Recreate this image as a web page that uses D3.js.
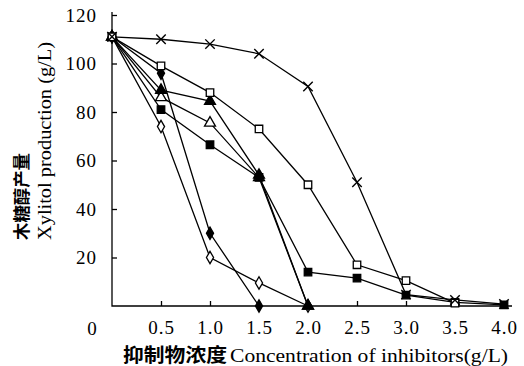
<!DOCTYPE html>
<html>
<head>
<meta charset="utf-8">
<script src="https://cdn.jsdelivr.net/npm/d3@7"></script>
<style>
  body { margin: 0; background: #fff; }
  svg { display: block; }
  .tick text { font-family: "Liberation Serif", serif; font-size: 19px; fill: #000; letter-spacing: 1px; }
</style>
</head>
<body>
<svg id="chart" width="524" height="366"></svg>
<script>
// inhibitor concentration (g/L)
const conc = [0, 0.5, 1.0, 1.5, 2.0, 2.5, 3.0, 3.5, 4.0];

// xylitol production (g/L), one array per inhibitor
const seriesCross = [111, 110, 108, 104, 90.5, 51, 4.7, 2.5, 0.8];
const seriesOpenSquare = [111, 99, 88, 73, 50, 17, 10.5, 1.2];
const seriesFilledSquare = [111, 81, 66.5, 53, 14, 11.5, 4.5, 1.5, 0.5];
const seriesFilledTriangle = [111, 89, 84.5, 54, 0];
const seriesOpenTriangle = [111, 86, 75.5, 53, 0];
const seriesFilledDiamond = [111, 96, 30, 0];
const seriesOpenDiamond = [111, 74, 20, 9.5, 0];

const xTicks = [0.5, 1.0, 1.5, 2.0, 2.5, 3.0, 3.5, 4.0];
const yTicks = [20, 40, 60, 80, 100, 120];

const series = [
  { values: seriesOpenDiamond, symbol: d3.symbolDiamond, size: 44, filled: false },
  { values: seriesFilledDiamond, symbol: d3.symbolDiamond, size: 44, filled: true },
  { values: seriesOpenTriangle, symbol: d3.symbolTriangle, size: 52, filled: false },
  { values: seriesFilledTriangle, symbol: d3.symbolTriangle, size: 52, filled: true },
  { values: seriesFilledSquare, symbol: d3.symbolSquare, size: 56, filled: true },
  { values: seriesOpenSquare, symbol: d3.symbolSquare, size: 56, filled: false },
  { values: seriesCross, symbol: d3.symbolTimes, size: 60, filled: false, cross: true }
];

const svg = d3.select('#chart');

const x = d3.scaleLinear().domain([0, 4]).range([112, 504]);
const y = d3.scaleLinear().domain([0, 120]).range([306, 15]);

// axes, ticks pointing inward
svg.append('g')
  .attr('transform', `translate(0,${y(0)})`)
  .call(d3.axisBottom(x).tickValues(xTicks).tickFormat(d3.format('.1f'))
    .tickSizeInner(-5).tickSizeOuter(0).tickPadding(15))
  .call(g => g.select('.domain').remove());

svg.append('g')
  .attr('transform', `translate(${x(0)},0)`)
  .call(d3.axisLeft(y).tickValues(yTicks)
    .tickSizeInner(-5).tickSizeOuter(0).tickPadding(15))
  .call(g => g.select('.domain').remove());

svg.selectAll('.tick line').attr('stroke', '#000').attr('stroke-width', 1.3);

svg.append('path')
  .attr('d', `M${x(0)},${y(120) - 3}V${y(0)}H${x(4) + 8}`)
  .attr('fill', 'none')
  .attr('stroke', '#000')
  .attr('stroke-width', 1.3);

// origin label
svg.append('text')
  .attr('x', 92).attr('y', 335)
  .attr('text-anchor', 'middle')
  .style('font-family', '"Liberation Serif", serif')
  .style('font-size', '19px')
  .text('0');

const line = d3.line()
  .x((d, i) => x(conc[i]))
  .y(d => y(d));

const plot = svg.append('g');

plot.selectAll('path.series')
  .data(series)
  .enter()
  .append('path')
  .attr('class', 'series')
  .attr('d', s => line(s.values))
  .attr('fill', 'none')
  .attr('stroke', '#000')
  .attr('stroke-width', 1.3);

series.forEach(s => {
  plot.append('g')
    .selectAll('path')
    .data(s.values)
    .enter()
    .append('path')
    .attr('transform', (d, i) => `translate(${x(conc[i])},${y(d)})`)
    .attr('d', d3.symbol().type(s.symbol).size(s.size))
    .attr('fill', s.cross ? 'none' : (s.filled ? '#000' : '#fff'))
    .attr('stroke', '#000')
    .attr('stroke-width', s.cross ? 1.4 : 1.3);
});

// axis titles
svg.append('text')
  .attr('x', 123).attr('y', 362)
  .attr('textLength', 104)
  .attr('lengthAdjust', 'spacingAndGlyphs')
  .style('font-family', '"Noto Sans CJK SC", sans-serif')
  .style('font-weight', 'bold')
  .style('font-size', '19px')
  .text('抑制物浓度');

svg.append('text')
  .attr('x', 230).attr('y', 362)
  .attr('textLength', 278)
  .attr('lengthAdjust', 'spacingAndGlyphs')
  .style('font-family', '"Liberation Serif", serif')
  .style('font-size', '19px')
  .text('Concentration of inhibitors(g/L)');

svg.append('text')
  .attr('transform', 'translate(28,240) rotate(-90)')
  .attr('textLength', 87)
  .attr('lengthAdjust', 'spacingAndGlyphs')
  .style('font-family', '"Noto Sans CJK SC", sans-serif')
  .style('font-weight', 'bold')
  .style('font-size', '17px')
  .text('木糖醇产量');

svg.append('text')
  .attr('transform', 'translate(51,240) rotate(-90)')
  .attr('textLength', 198)
  .attr('lengthAdjust', 'spacingAndGlyphs')
  .style('font-family', '"Liberation Serif", serif')
  .style('font-size', '18px')
  .text('Xylitol production  (g/L)');
</script>
</body>
</html>
